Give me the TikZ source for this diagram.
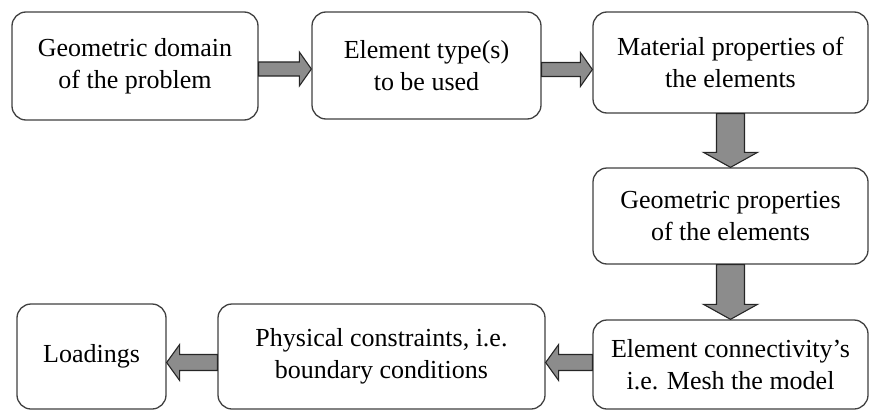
\documentclass[tikz,border=0pt]{standalone}
\usepackage{fontspec}
\setmainfont{Liberation Serif}
\usetikzlibrary{calc}
% right-pointing fat arrow: #1 from, #2 to, #3 vertical shift
\newcommand\fatR[3]{%
  \coordinate (fs) at ($(#1.east)+(0,#3)$);
  \coordinate (ft) at ($(#1.east -| #2.west)+(0,#3)$);
  \draw[fat] ($(fs)+(0,-7)$) -- ($(ft)+(-12,-7)$) -- ($(ft)+(-12,-17)$) -- (ft)
    -- ($(ft)+(-12,17)$) -- ($(ft)+(-12,7)$) -- ($(fs)+(0,7)$) -- cycle;}
\newcommand\fatL[3]{%
  \coordinate (fs) at ($(#1.west)+(0,#3)$);
  \coordinate (ft) at ($(#1.west -| #2.east)+(0,#3)$);
  \draw[fat] ($(fs)+(0,-8)$) -- ($(ft)+(13,-8)$) -- ($(ft)+(13,-18)$) -- (ft)
    -- ($(ft)+(13,18)$) -- ($(ft)+(13,8)$) -- ($(fs)+(0,8)$) -- cycle;}
\newcommand\fatD[2]{%
  \coordinate (fs) at (#1.south);
  \coordinate (ft) at (#1.south |- #2.north);
  \draw[fat] ($(fs)+(-14,0)$) -- ($(ft)+(-14,-15)$) -- ($(ft)+(-27,-15)$) -- (ft)
    -- ($(ft)+(27,-15)$) -- ($(ft)+(14,-15)$) -- ($(fs)+(14,0)$) -- cycle;}
\begin{document}
\begin{tikzpicture}[x=1pt,y=-1pt,
  box/.style={draw=black!75, line width=1.3pt, rounded corners=14pt, align=center,
    font=\fontsize{26}{32}\selectfont, inner sep=0pt, fill=white},
  fat/.style={fill=black!45, draw=black!85, line width=1.1pt, line join=miter}]
\useasboundingbox (0,0) rectangle (872,412);
\node[box, minimum width=246pt, minimum height=108pt] (b1) at (135,66) {Geometric domain\\of the problem};
\node[box, minimum width=229pt, minimum height=107pt] (b2) at (426.5,65.5) {Element type(s)\\to be used};
\node[box, minimum width=275pt, minimum height=101pt] (b3) at (730.5,62.5) {Material properties of\\the elements};
\node[box, minimum width=275pt, minimum height=96pt] (b4) at (730.5,216) {Geometric properties\\of the elements};
\node[box, minimum width=275pt, minimum height=89pt] (b6) at (730.5,364.5) {Element connectivity's\\i.e. Mesh the model};
\node[box, minimum width=327pt, minimum height=105pt] (b5) at (381.5,356.5) {Physical constraints, i.e.\\boundary conditions};
\node[box, minimum width=149pt, minimum height=105pt] (b7) at (91.5,356.5) {Loadings};
\fatR{b1}{b2}{3}
\fatR{b2}{b3}{4}
\fatD{b3}{b4}
\fatD{b4}{b6}
\fatL{b6}{b5}{-2}
\fatL{b5}{b7}{6}
\end{tikzpicture}
\end{document}
